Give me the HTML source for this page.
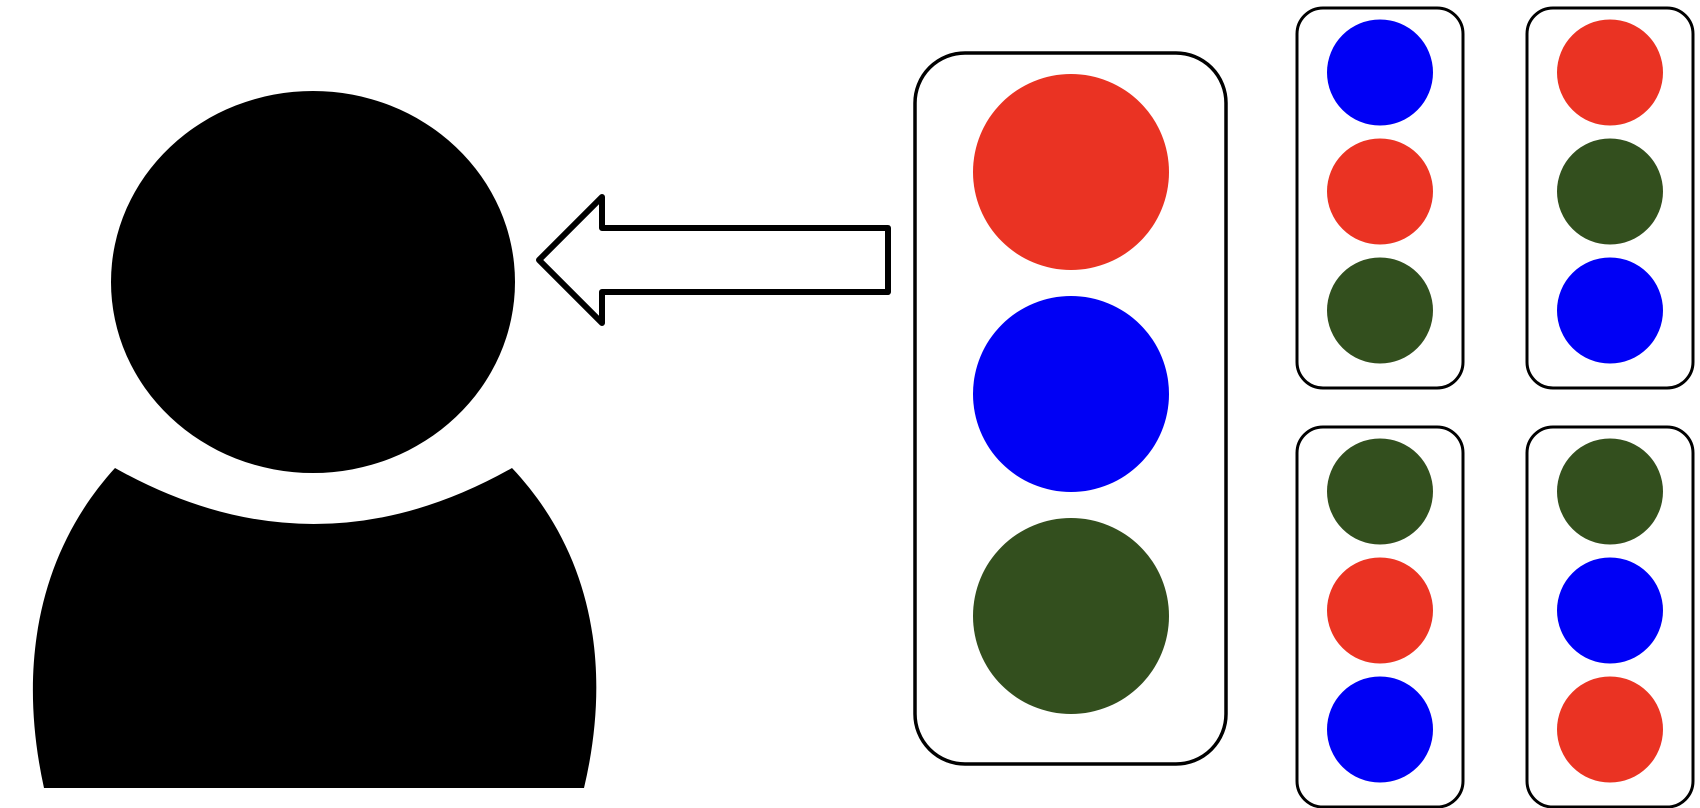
<!DOCTYPE html>
<html><head><meta charset="utf-8"><style>html,body{margin:0;padding:0;background:#fff;}svg{display:block;}</style></head>
<body>
<svg id="diagram" width="1700" height="808" viewBox="0 0 1700 808" xmlns="http://www.w3.org/2000/svg">
  <g>
    <ellipse cx="313" cy="282" rx="202" ry="191" fill="#000"/>
    <path d="M44,788 C18,670 36,555 115,468 Q314,580 512,468 C594,555 612,670 584,788 Z" fill="#000"/>
  </g>
  <path d="M539,260 L602,197 L602,228 L888,228 L888,292 L602,292 L602,323 Z" fill="#fff" stroke="#000" stroke-width="6" stroke-linejoin="round"/>
  <g>
    <rect x="915" y="53" width="311" height="711" rx="50" fill="#fff" stroke="#000" stroke-width="3.5"/>
    <circle cx="1071" cy="172" r="98" fill="#EA3323"/>
    <circle cx="1071" cy="394" r="98" fill="#0000F5"/>
    <circle cx="1071" cy="616" r="98" fill="#334F1E"/>
  </g>
  <g id="small"></g>
</svg>
<script>
const boxes = [
  {x:1297, y:8, colors:['#0000F5','#EA3323','#334F1E'], name:'top-left'},
  {x:1527, y:8, colors:['#EA3323','#334F1E','#0000F5'], name:'top-right'},
  {x:1297, y:427, colors:['#334F1E','#EA3323','#0000F5'], name:'bottom-left'},
  {x:1527, y:427, colors:['#334F1E','#0000F5','#EA3323'], name:'bottom-right'}
];
const NS='http://www.w3.org/2000/svg';
const g=document.getElementById('small');
boxes.forEach(b=>{
  const grp=document.createElementNS(NS,'g');
  
  
  const r=document.createElementNS(NS,'rect');
  r.setAttribute('x',b.x);r.setAttribute('y',b.y);r.setAttribute('width',166);r.setAttribute('height',380);
  r.setAttribute('rx',26);r.setAttribute('fill','#fff');r.setAttribute('stroke','#000');r.setAttribute('stroke-width',3);
  
  
  grp.appendChild(r);
  b.colors.forEach((c,i)=>{
    const ci=document.createElementNS(NS,'circle');
    ci.setAttribute('cx',b.x+83);ci.setAttribute('cy',b.y+64.5+i*119);ci.setAttribute('r',53);ci.setAttribute('fill',c);
    
    
    grp.appendChild(ci);
  });
  g.appendChild(grp);
});
</script>
</body></html>
